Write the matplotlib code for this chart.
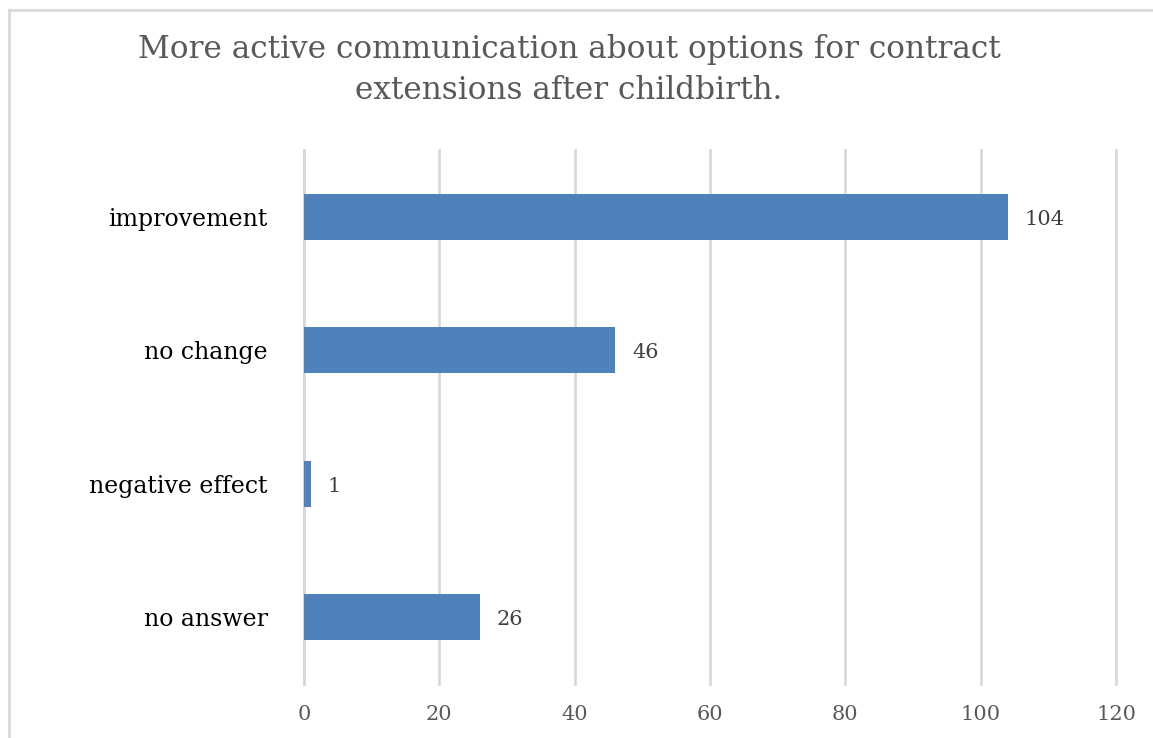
import matplotlib
matplotlib.use('Agg')
import matplotlib.pyplot as plt
from matplotlib.lines import Line2D

BAR = '#4F81BD'
GRID = '#D9D9D9'
TITLE_C = '#595959'
TICK_C = '#595959'
LABEL_C = '#404040'
SERIF = ['DejaVu Serif']

categories = ['improvement', 'no change', 'negative effect', 'no answer']
counts = [104, 46, 1, 26]
x_ticks = [0, 20, 40, 60, 80, 100, 120]

fig = plt.figure(figsize=(11.53, 7.38), dpi=100)
fig.patch.set_facecolor('white')
ax = fig.add_axes([0.2637, 0.0732, 0.7042, 0.7236])

ypos = list(range(len(categories)))
ax.barh(ypos, counts, height=0.345, color=BAR, zorder=3)
ax.set_ylim(len(categories) - 0.5, -0.5)
ax.set_xlim(0, 120)

ax.set_xticks(x_ticks)
ax.set_xticklabels([str(t) for t in x_ticks], fontsize=15, color=TICK_C, family=SERIF)
ax.set_yticks(ypos)
ax.set_yticklabels(categories, fontsize=17, color='black', family=SERIF)
ax.tick_params(axis='x', length=0, pad=15)
ax.tick_params(axis='y', length=0, pad=26)

ax.grid(axis='x', color=GRID, linewidth=2, zorder=0)
for gl in ax.get_xgridlines():
    gl.set_clip_on(False)
for s in ['top', 'right', 'bottom']:
    ax.spines[s].set_visible(False)
ax.spines['left'].set_color(GRID)
ax.spines['left'].set_linewidth(2)

for y, v in zip(ypos, counts):
    ax.text(v + 2.5, y + 0.02, str(v), fontsize=15, color=LABEL_C, family=SERIF,
            ha='left', va='center')

fig.text(0.4935, 0.905, 'More active communication about options for contract\nextensions after childbirth.',
         ha='center', va='center', fontsize=22.4, color=TITLE_C, family=SERIF, linespacing=1.4)

# chart frame (top and left edges)
fig.add_artist(Line2D([8.5 / 1153, 1], [1 - 9.5 / 738, 1 - 9.5 / 738], color=GRID, lw=2, transform=fig.transFigure))
fig.add_artist(Line2D([8.5 / 1153, 8.5 / 1153], [0, 1 - 9.5 / 738], color=GRID, lw=2, transform=fig.transFigure))

fig.savefig('out.png', dpi=100, facecolor='white')
